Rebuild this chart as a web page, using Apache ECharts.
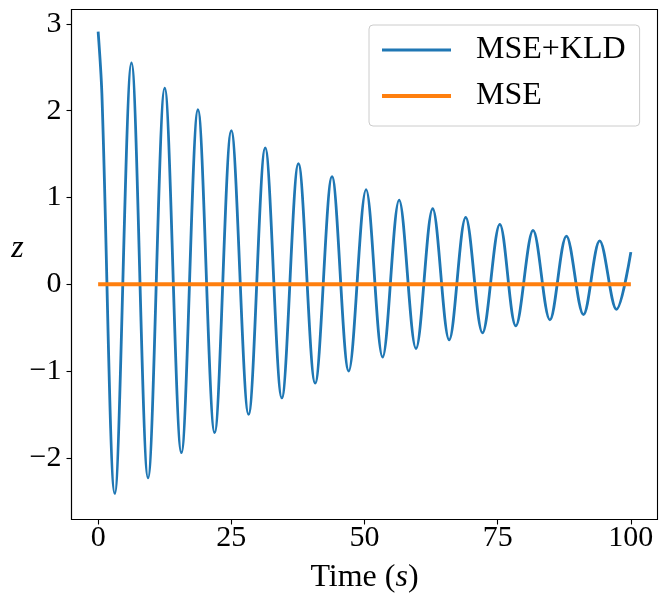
<!DOCTYPE html>
<html>
<head>
<meta charset="utf-8">
<script src="https://cdn.jsdelivr.net/npm/echarts@6/dist/echarts.min.js"></script>
<style>
html,body{margin:0;padding:0;background:#fff;}
#chart{width:667px;height:604px;}
</style>
</head>
<body>
<div id="chart"></div>
<script>
// MSE+KLD trajectory: start, successive peaks/troughs and end
const klTime = [0, 0.7, 3.13, 6.26, 9.37, 12.5, 15.63, 18.74, 21.87, 25.0, 28.24, 31.37, 34.48, 37.6, 40.74,
  43.9, 47.04, 50.3, 53.4, 56.5, 59.67, 62.8, 65.9, 69.0, 72.15, 75.4, 78.4, 81.65, 84.8, 87.9,
  91.1, 94.15, 97.3, 100];
const klZ = [2.91, 2.2, -2.41, 2.55, -2.23, 2.26, -1.94, 2.01, -1.71, 1.77, -1.50, 1.57, -1.31, 1.39, -1.14,
  1.24, -1.00, 1.09, -0.84, 0.97, -0.74, 0.87, -0.64, 0.77, -0.56, 0.69, -0.48, 0.62, -0.41, 0.555,
  -0.35, 0.50, -0.29, 0.37];
// MSE trajectory (flat at zero)
const mseTime = [0, 100];
const mseZ = [0, 0];
// Axis ticks
const xTicks = [0, 25, 50, 75, 100];
const yTicks = [-2, -1, 0, 1, 2, 3];
const yTickLabels = ['\u22122', '\u22121', '0', '1', '2', '3'];
const seriesNames = ['MSE+KLD', 'MSE'];

const FONT = '"Liberation Serif", "DejaVu Serif", serif';
const chart = echarts.init(document.getElementById('chart'), null, {renderer: 'canvas'});

const axisCommon = {
  axisLine: {show: true, onZero: false, lineStyle: {color: '#000', width: 1.1}},
  axisTick: {show: true, inside: false, length: 5, lineStyle: {color: '#000', width: 1.1}},
  splitLine: {show: false}
};

chart.setOption({
  animation: false,
  backgroundColor: '#fff',
  grid: {left: 71.5, top: 9.5, width: 586, height: 510, show: true, borderColor: '#000', borderWidth: 1.1, containLabel: false},
  legend: {
    data: seriesNames,
    orient: 'vertical',
    left: 369, top: 25,
    itemWidth: 69, itemHeight: 14, itemGap: 10,
    padding: [7, 14, 12, 11],
    backgroundColor: 'rgba(255,255,255,0.8)',
    borderColor: '#cccccc', borderWidth: 1, borderRadius: 4,
    lineStyle: {width: 'inherit'},
    itemStyle: {opacity: 0},
    textStyle: {fontFamily: FONT, fontSize: 32, color: '#000', lineHeight: 36, padding: [0, 0, 0, 20]}
  },
  xAxis: Object.assign({}, axisCommon, {
    type: 'value', min: -5, max: 105,
    axisTick: Object.assign({}, axisCommon.axisTick, {customValues: xTicks}),
    axisLabel: {customValues: xTicks, margin: 4, fontFamily: FONT, fontSize: 30, color: '#000',
      formatter: v => String(v)},
    name: 'Time ({i|s})',
    nameLocation: 'middle', nameGap: 42,
    nameTextStyle: {fontFamily: FONT, fontSize: 32, color: '#000',
      rich: {i: {fontFamily: FONT, fontSize: 32, fontStyle: 'italic', color: '#000'}}}
  }),
  yAxis: Object.assign({}, axisCommon, {
    type: 'value', min: -2.71, max: 3.165,
    axisTick: Object.assign({}, axisCommon.axisTick, {customValues: yTicks}),
    axisLabel: {customValues: yTicks, margin: 10, fontFamily: FONT, fontSize: 30, color: '#000',
      formatter: v => yTickLabels[yTicks.indexOf(Math.round(v))]},
    name: 'z', nameLocation: 'middle', nameRotate: 0, nameGap: 47,
    nameTextStyle: {fontFamily: FONT, fontSize: 32, fontStyle: 'italic', color: '#000', verticalAlign: 'bottom'}
  }),
  series: [
    {
      name: seriesNames[0], type: 'line',
      data: klTime.map((t, i) => [t, klZ[i]]),
      showSymbol: false, symbol: 'none', smooth: 0.34,
      lineStyle: {color: '#1f77b4', width: 2.8},
      itemStyle: {color: '#1f77b4'}
    },
    {
      name: seriesNames[1], type: 'line',
      data: mseTime.map((t, i) => [t, mseZ[i]]),
      showSymbol: false, symbol: 'none',
      lineStyle: {color: '#ff7f0e', width: 4},
      itemStyle: {color: '#ff7f0e'}
    }
  ]
});
</script>
</body>
</html>
